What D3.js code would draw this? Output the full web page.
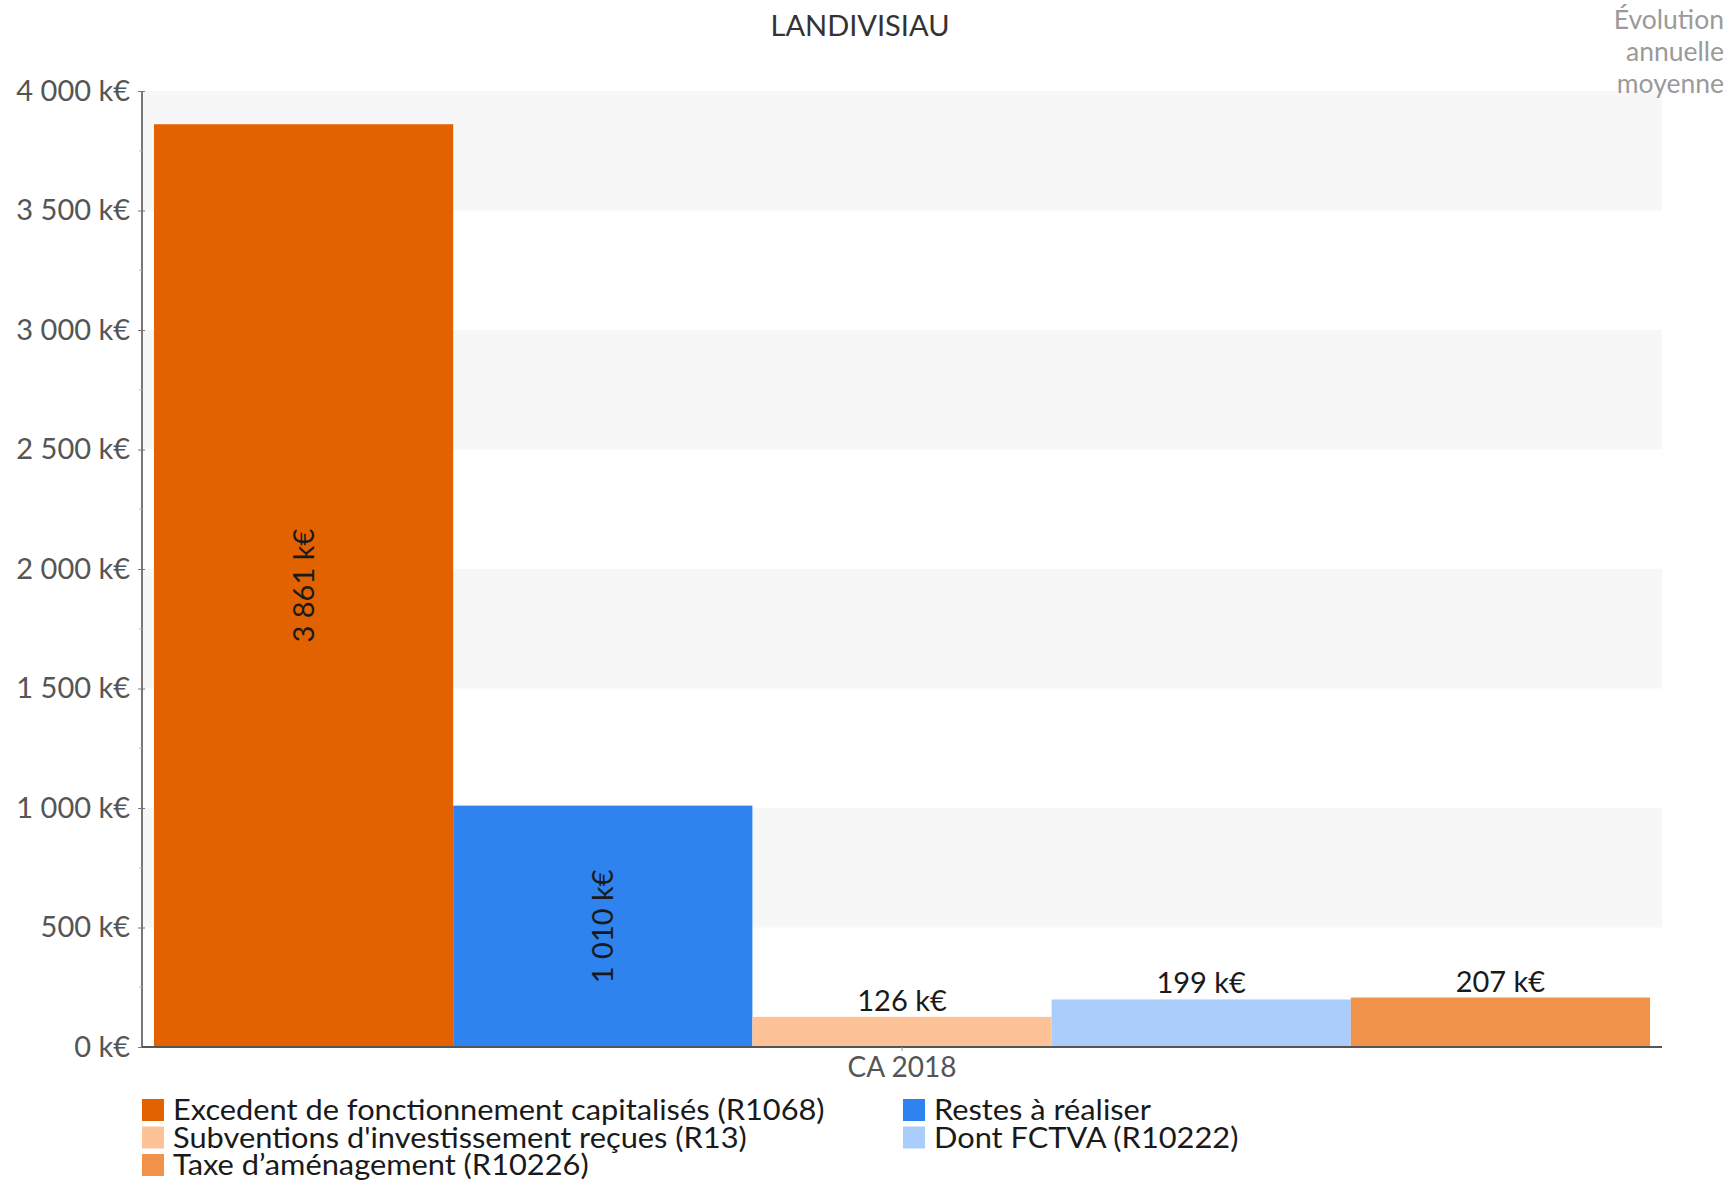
<!DOCTYPE html>
<html>
<head>
<meta charset="utf-8">
<script src="https://cdn.jsdelivr.net/npm/d3@7"></script>
<style>
  html, body { margin: 0; padding: 0; background: #fff; }
  svg { display: block; font-family: Lato, "Open Sans", sans-serif; }
</style>
</head>
<body>
<svg id="chart" width="1735" height="1181"></svg>
<script>
const title = "LANDIVISIAU";
const sideNote = ["Évolution", "annuelle", "moyenne"];
const categories = ["CA 2018"];
const seriesNames = [
  "Excedent de fonctionnement capitalisés (R1068)",
  "Restes à réaliser",
  "Subventions d'investissement reçues (R13)",
  "Dont FCTVA (R10222)",
  "Taxe d’aménagement (R10226)"
];
const seriesValues = [3861, 1010, 126, 199, 207];
const seriesColors = ["#e36200", "#2e83ef", "#fdc396", "#abcdfb", "#f0924a"];
const yTicks = [0, 500, 1000, 1500, 2000, 2500, 3000, 3500, 4000];
const rotatedLabel = [true, true, false, false, false];

const fmt = v => d3.format(",")(v).replace(/,/g, " ") + " k€";

const svg = d3.select("#chart");
const L = 142, R = 1662, T = 91, B = 1047;

const x0 = d3.scaleBand().domain(categories).range([L, R]).paddingInner(0).paddingOuter(0.008);
const x1 = d3.scaleBand().domain(seriesNames).range([0, x0.bandwidth()]).padding(0);
const y = d3.scaleLinear().domain([0, 4000]).range([B, T]);

// alternating background bands
const bandPairs = [[500, 1000], [1500, 2000], [2500, 3000], [3500, 4000]];
svg.append("g").selectAll("rect").data(bandPairs).join("rect")
  .attr("x", L).attr("width", R - L)
  .attr("y", d => y(d[1])).attr("height", d => y(d[0]) - y(d[1]))
  .attr("fill", "#f7f7f7");

// title
svg.append("text").attr("x", 860).attr("y", 36).attr("text-anchor", "middle")
  .attr("font-size", 29).attr("fill", "#333").text(title);

// side note
svg.append("g").selectAll("text").data(sideNote).join("text")
  .attr("x", 1724).attr("y", (d, i) => 29 + i * 32).attr("text-anchor", "end")
  .attr("font-size", 26.5).attr("fill", "#9a9a9a").text(d => d);

// bars
const g = svg.append("g");
categories.forEach(cat => {
  const gx = x0(cat);
  g.selectAll("rect.bar").data(seriesNames).join("rect").attr("class", "bar")
    .attr("x", d => gx + x1(d)).attr("width", x1.bandwidth())
    .attr("y", (d, i) => y(seriesValues[i]))
    .attr("height", (d, i) => y(0) - y(seriesValues[i]))
    .attr("fill", (d, i) => seriesColors[i]);
  g.selectAll("text.val").data(seriesNames).join("text").attr("class", "val")
    .attr("font-size", 29).attr("fill", "#1a1a1a").attr("text-anchor", "middle")
    .each(function(d, i) {
      const cx = gx + x1(d) + x1.bandwidth() / 2;
      const t = d3.select(this).text(fmt(seriesValues[i]));
      if (rotatedLabel[i]) {
        const cy = (y(0) + y(seriesValues[i])) / 2;
        t.attr("transform", `translate(${cx},${cy}) rotate(-90)`).attr("dy", "0.35em");
      } else {
        t.attr("x", cx).attr("y", y(seriesValues[i]) - 6);
      }
    });
});

// y axis
const yAxis = d3.axisLeft(y).tickValues(yTicks).tickSize(4).tickFormat(fmt);
const ya = svg.append("g").attr("transform", `translate(${L},0)`).call(yAxis);
ya.select(".domain").attr("stroke", "#777").attr("stroke-width", 2).attr("d", `M0,${T}V${B}`);
ya.selectAll(".tick line").attr("stroke", "#777").attr("x2", -4).attr("x1", 3);
ya.selectAll(".tick text").attr("font-size", 29).attr("fill", "#555").attr("x", -12)
  .attr("font-family", "Lato, sans-serif");
// minor ticks
svg.append("g").selectAll("line").data(d3.range(250, 4000, 500)).join("line")
  .attr("x1", L - 3).attr("x2", L).attr("y1", d => y(d)).attr("y2", d => y(d))
  .attr("stroke", "#f3a0a0").attr("stroke-width", 1);

// x axis
const xAxis = d3.axisBottom(x0).tickSize(4);
const xa = svg.append("g").attr("transform", `translate(0,${B})`).call(xAxis);
xa.select(".domain").attr("stroke", "#555").attr("stroke-width", 2).attr("d", `M${L},0H${R}`);
xa.selectAll(".tick line").attr("stroke", "#999");
xa.selectAll(".tick text").attr("font-size", 28).attr("fill", "#555").attr("dy", 0).attr("y", 30)
  .attr("font-family", "Lato, sans-serif");

// legend (2 columns, row-wise)
const legX = [142, 903], legY0 = 1099, legRow = 27.5;
const lg = svg.append("g").selectAll("g").data(seriesNames).join("g")
  .attr("transform", (d, i) => `translate(${legX[i % 2]},${legY0 + Math.floor(i / 2) * legRow})`);
lg.append("rect").attr("width", 22).attr("height", 22).attr("fill", (d, i) => seriesColors[i]);
lg.append("text").attr("transform", "translate(31,21) scale(1.1,1)")
  .attr("font-size", 28).attr("fill", "#1a1a1a").text(d => d);
</script>
</body>
</html>
